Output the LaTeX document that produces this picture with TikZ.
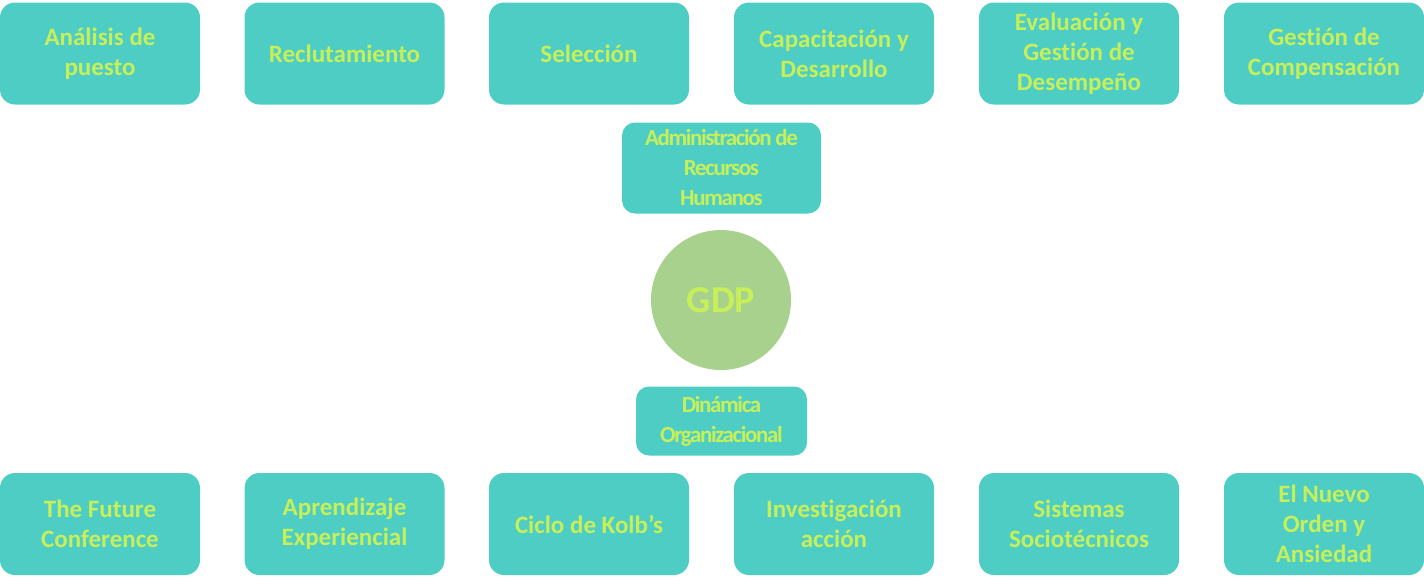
\documentclass[tikz,border=0pt]{standalone}
\usepackage{fontspec}
\setmainfont{Carlito}[Ligatures={NoCommon}]
\newfontfamily\tightfont[LetterSpace=-6,Ligatures={NoCommon}]{Carlito}
\definecolor{tealbox}{RGB}{78,205,196}
\definecolor{limetext}{RGB}{198,239,90}
\definecolor{sagecircle}{RGB}{169,209,142}
\tikzset{
  topic/.style={rectangle, rounded corners=15pt, fill=tealbox, draw=none,
    minimum width=200pt, minimum height=102pt, align=center, text=limetext,
    font=\fontsize{25}{30}\selectfont\bfseries},
  hub/.style={rectangle, rounded corners=13pt, fill=tealbox, draw=none,
    align=center, text=limetext,
    font=\tightfont\fontsize{23}{30}\selectfont\bfseries},
  core/.style={circle, fill=sagecircle, draw=none, minimum size=140pt,
    text=limetext, font=\fontsize{38}{40}\selectfont\bfseries}
}
\begin{document}
\begin{tikzpicture}[x=1pt, y=-1pt]
	\useasboundingbox (0,0) rectangle (1424,584);

	% upper row
	\node[topic] (analisis) at (100,53.5) {An\'alisis de\\puesto};
	\node[topic] (reclut) at (344.5,53.5) {Reclutamiento};
	\node[topic] (selec) at (589,53.5) {Selecci\'on};
	\node[topic] (capac) at (834,53.5) {Capacitaci\'on y\\Desarrollo};
	\node[topic] (evalua) at (1079,53.5) {Evaluaci\'on y\\Gesti\'on de\\Desempe\~no};
	\node[topic] (compen) at (1324,53.5) {Gesti\'on de\\Compensaci\'on};

	% centre
	\node[hub, minimum width=199pt, minimum height=91pt] (arh) at (721.5,168) {Administraci\'on de\\Recursos\\Humanos};
	\node[core] (gdp) at (721,300) {GDP};
	\node[hub, minimum width=171pt, minimum height=69pt] (dinamica) at (721.5,421) {Din\'amica\\Organizacional};

	% lower row
	\node[topic] (future) at (100,524) {The Future\\Conference};
	\node[topic] (aprend) at (344.5,524) {Aprendizaje\\Experiencial};
	\node[topic] (kolb) at (589,524) {Ciclo de Kolb’s};
	\node[topic] (investig) at (834,524) {Investigaci\'on\\acci\'on};
	\node[topic] (sistemas) at (1079,524) {Sistemas\\Sociot\'ecnicos};
	\node[topic] (orden) at (1324,524) {El Nuevo\\Orden y\\Ansiedad};
\end{tikzpicture}
\end{document}
